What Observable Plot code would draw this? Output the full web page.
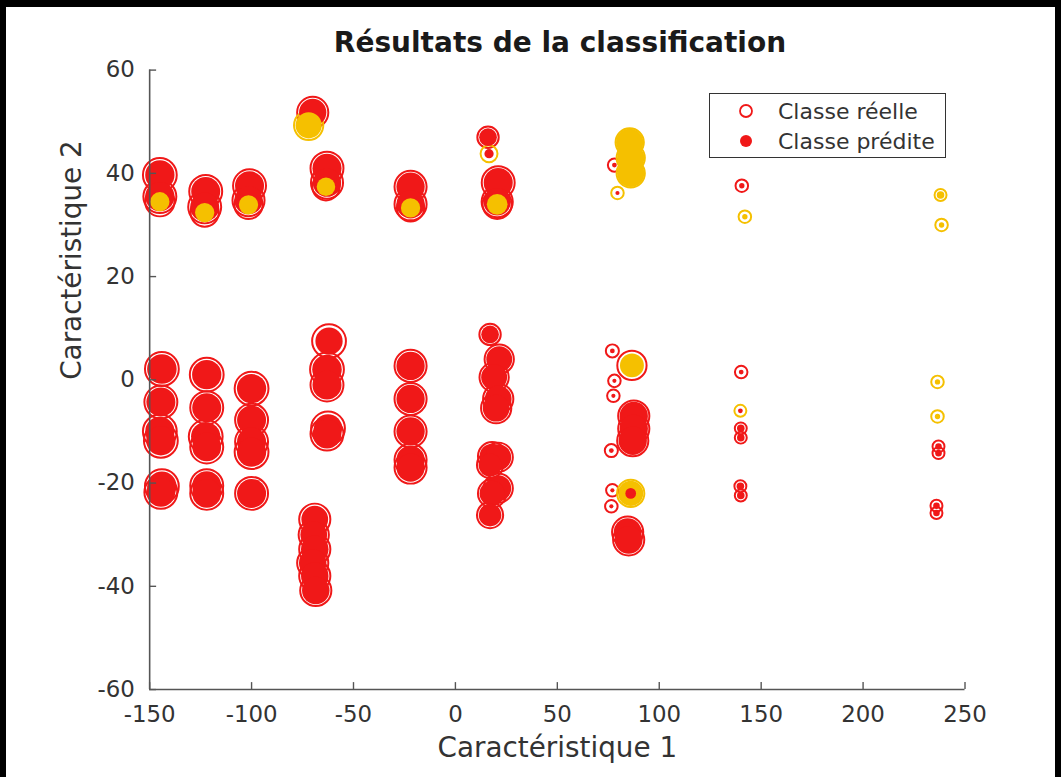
<!DOCTYPE html>
<html lang="fr">
<head>
<meta charset="utf-8">
<title>Résultats de la classification</title>
<script src="https://cdn.jsdelivr.net/npm/d3@7"></script>
<script src="https://cdn.jsdelivr.net/npm/@observablehq/plot@0.6"></script>
<style>
  body { margin: 0; background: #fff; }
  #page {
    position: relative; width: 1061px; height: 777px; box-sizing: border-box;
    border-top: 7px solid #000; border-left: 6px solid #000; border-right: 6px solid #000;
    background: #fff; overflow: hidden;
    font-family: "DejaVu Sans", sans-serif;
  }
  #chart { position: absolute; left: -6px; top: -7px; }
  #titre {
    position: absolute; left: 144px; top: 22px; width: 820px; text-align: center;
    font-weight: bold; font-size: 28px; line-height: 1; color: #1a1a1a;
  }
  #legende {
    position: absolute; left: 703px; top: 86px; width: 237px; height: 65px;
    box-sizing: border-box; border: 1.5px solid #333; background: #fff;
  }
</style>
</head>
<body>
<div id="page">
  <div id="chart"></div>
  <div id="titre">Résultats de la classification</div>
  <div id="legende"></div>
</div>
<script>
// Caractéristique 1 / Caractéristique 2 of each sample, grouped by column
const carac1 = [
  -145, -145, -145, -144, -144.5, -145, -144.5, -144, -144.5,
  -122.5, -123, -123, -122, -122, -122.5, -122, -122, -122,
  -101, -101.5, -101.5, -100, -100, -100, -100, -100,
  -70, -72, -69, -69.5, -69, -70, -69, -68.5,
  -63, -63, -63.5, -62, -63, -63, -62.5, -63,
  -22, -22, -22, -22, -22, -22, -22, -22,
  16, 16.5, 21, 20.5, 20.5, 17, 21.5, 19, 21, 20, 18, 21, 17, 21, 18, 17,
  78, 79.5, 77, 78, 77.5, 76.5, 77, 76.5,
  85.5, 86, 86, 86.6, 87.5, 87.5, 87, 86, 86, 84.5, 85,
  140.5, 142, 140.2, 139.8, 140, 140, 139.8, 140,
  238, 238.5, 236.5, 236.5, 237, 237, 236, 236
];
const carac2 = [
  39.7, 35.5, 34.5, 2.1, -4.3, -10, -11.8, -20.6, -21.8,
  36.5, 33.5, 32.4, 1, -5.4, -11, -13, -20.5, -22,
  37.6, 34.8, 33.9, -1.7, -7.8, -12, -14, -22,
  51.8, 49.3, -27, -30, -32.8, -35.5, -38, -40.8,
  41, 38.2, 37.4, 7.5, 2, -1, -9.4, -10.5,
  37.4, 34, 33.3, 2.7, -3.7, -10, -15.5, -17,
  47, 43.8, 38.2, 34.5, 34, 8.8, 4, 0.5, -3.7, -5.5, -14.8, -15, -16.5, -21, -22, -26.2,
  41.6, 36.2, 5.6, -0.2, -3.1, -13.7, -21.4, -24.5,
  46, 43, 40, 2.8, -7, -9.5, -11.8, -22, -22, -29.5, -31,
  37.6, 31.6, 1.5, -6, -9.4, -11.2, -20.6, -22.4,
  35.8, 30, -0.4, -7.1, -12.9, -14.2, -24.4, -25.8
];
// True class and predicted class of each sample
const classeReelle = [
  "A","A","A","A","A","A","A","A","A",
  "A","A","A","A","A","A","A","A","A",
  "A","A","A","A","A","A","A","A",
  "A","B","A","A","A","A","A","A",
  "A","A","A","A","A","A","A","A",
  "A","A","A","A","A","A","A","A",
  "A","B","A","A","A","A","A","A","A","A","A","A","A","A","A","A",
  "A","B","A","A","A","A","A","A",
  "B","B","B","A","A","A","A","B","B","A","A",
  "A","B","A","B","A","A","A","A",
  "B","B","B","B","A","A","A","A"
];
const classePredite = [
  "A","A","B","A","A","A","A","A","A",
  "A","A","B","A","A","A","A","A","A",
  "A","A","B","A","A","A","A","A",
  "A","B","A","A","A","A","A","A",
  "A","A","B","A","A","A","A","A",
  "A","A","B","A","A","A","A","A",
  "A","A","A","A","B","A","A","A","A","A","A","A","A","A","A","A",
  "A","A","A","A","A","A","A","A",
  "B","B","B","B","A","A","A","B","A","A","A",
  "A","B","A","A","A","A","A","A",
  "B","B","B","B","A","A","A","A"
];
// Marker areas (scatter size) for the true-class rings and predicted-class discs
const tailleReelle = [
  400, 380, 300, 400, 380, 400, 400, 400, 380,
  380, 380, 280, 400, 380, 400, 380, 380, 380,
  380, 360, 280, 400, 380, 380, 400, 380,
  340, 300, 340, 320, 340, 340, 340, 340,
  380, 360, 260, 400, 400, 380, 400, 380,
  360, 360, 260, 360, 360, 360, 360, 360,
  160, 100, 380, 340, 300, 160, 300, 300, 320, 320, 280, 300, 240, 300, 280, 240,
  60, 55, 60, 55, 55, 60, 55, 55,
  280, 280, 280, 300, 340, 340, 340, 260, 100, 340, 340,
  55, 55, 55, 50, 50, 50, 50, 50,
  50, 55, 55, 55, 50, 50, 50, 50
];
const taillePredite = [
  300, 300, 130, 305, 295, 300, 300, 300, 290,
  295, 295, 130, 300, 295, 300, 290, 295, 290,
  295, 280, 130, 300, 295, 295, 300, 295,
  260, 240, 250, 250, 265, 265, 265, 265,
  295, 280, 120, 260, 305, 295, 280, 290,
  280, 280, 130, 280, 280, 280, 280, 280,
  110, 30, 295, 265, 150, 110, 235, 235, 250, 250, 220, 235, 185, 235, 220, 180,
  8, 6, 8, 6, 6, 8, 6, 6,
  260, 260, 260, 200, 280, 280, 280, 220, 40, 270, 270,
  10, 10, 8, 8, 20, 20, 20, 20,
  20, 10, 10, 10, 15, 15, 15, 15
];
const classes = ["A", "B"];
const couleurs = ["#f01818", "#f5c000"];
const ticksX = [-150, -100, -50, 0, 50, 100, 150, 200, 250];
const ticksY = [-60, -40, -20, 0, 20, 40, 60];

const echantillons = carac1.map((x, i) => ({
  x, y: carac2[i],
  reelle: classeReelle[i], predite: classePredite[i],
  tR: tailleReelle[i], tP: taillePredite[i]
}));

const axe = "#555";
const chart = Plot.plot({
  width: 1061,
  height: 777,
  marginLeft: 150,
  marginRight: 91,
  marginTop: 70,
  marginBottom: 84,
  x: {domain: [-150, 250]},
  y: {domain: [-60, 60]},
  r: {type: "sqrt", domain: [0, 400], range: [0, 17]},
  color: {domain: classes, range: couleurs},
  style: {fontFamily: "'DejaVu Sans', sans-serif", fontSize: "23px", color: "#333", background: "transparent"},
  marks: [
    // true class: open circles
    Plot.dot(echantillons, {x: "x", y: "y", r: "tR", stroke: "reelle", strokeWidth: 2, sort: null}),
    // predicted class: filled circles
    Plot.dot(echantillons, {x: "x", y: "y", r: "tP", fill: "predite", sort: null}),
    Plot.ruleX([-150], {stroke: axe, strokeWidth: 1.6}),
    Plot.ruleY([-60], {stroke: axe, strokeWidth: 1.6}),
    Plot.tickX(ticksX, {x: d => d, insetTop: 623 - 7, stroke: axe, strokeWidth: 1.4}),
    Plot.tickY(ticksY, {y: d => d, insetRight: 820 - 7, stroke: axe, strokeWidth: 1.4}),
    Plot.axisX({ticks: ticksX, tickSize: 0, tickPadding: 16, tickFormat: d => String(d), fontSize: 23, label: null}),
    Plot.axisY({ticks: ticksY, tickSize: 0, tickPadding: 15, tickFormat: d => String(d), fontSize: 23, label: null}),
    Plot.text(["Caractéristique 1"], {text: d => d, frameAnchor: "bottom", lineAnchor: "middle", dy: 59, fontSize: 28, fill: "#333"}),
    Plot.text(["Caractéristique 2"], {text: d => d, frameAnchor: "left", dx: -78, rotate: -90, fontSize: 28, fill: "#333"})
  ]
});
document.getElementById("chart").append(chart);

// legend: open circle = true class, filled circle = predicted class
const leg = d3.select("#legende").append("svg").attr("width", 234).attr("height", 62)
  .style("font-family", "'DejaVu Sans', sans-serif").style("font-size", "22px");
leg.append("circle").attr("cx", 36).attr("cy", 17).attr("r", 6)
  .attr("fill", "none").attr("stroke", couleurs[0]).attr("stroke-width", 1.8);
leg.append("circle").attr("cx", 36).attr("cy", 47).attr("r", 6).attr("fill", couleurs[0]);
leg.append("text").attr("x", 68).attr("y", 17).attr("dy", "0.35em").attr("fill", "#333").text("Classe réelle");
leg.append("text").attr("x", 68).attr("y", 47).attr("dy", "0.35em").attr("fill", "#333").text("Classe prédite");
</script>
</body>
</html>
